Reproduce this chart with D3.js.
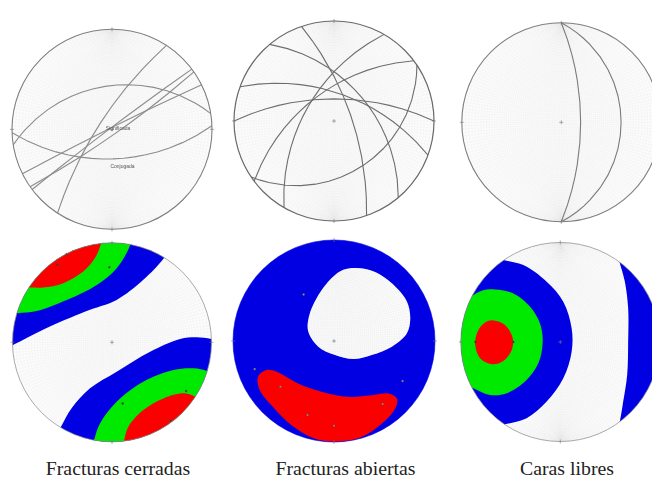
<!DOCTYPE html>
<meta charset="utf-8">
<title>Fracturas</title>
<style>
  html, body { margin: 0; background: #fff; overflow: hidden; }
</style>
<script src="https://d3js.org/d3.v7.min.js"></script>
<div id="chart"></div>

<script>
const planesCerradas = [[303, 75], [351, 43], [178, 57], [333.6, 88], [323, 88], [145, 84]]
const planesAbiertas = [[71, 70], [50, 50], [20, 59], [0, 65], [300, 57], [323, 57], [146, 34]]
const planesCaras = [[90, 68], [90, 28]]

// Contour outlines of the bottom row, in net units (-1 to 1, the rim is 1).
// Where a band leaves the net the outline runs on outside the rim.
const cerradasBlueA = [[-1.15, -0.1], [-1.0, -0.03], [-0.624, 0.158], [-0.221, 0.326], [0.047, 0.426], [0.315, 0.628], [0.517, 0.839], [0.6, 0.98], [0.2, 1.4], [-1.4, 1.4], [-1.5, 0.3]]
const cerradasGreenA = [[-1.1, 0.26], [-0.953, 0.292], [-0.758, 0.315], [-0.456, 0.426], [-0.154, 0.577], [0.047, 0.745], [0.181, 0.973], [0.22, 1.15], [-0.4, 1.4], [-1.4, 1.2]]
const cerradasRedA = [[-1.0, 0.55], [-0.826, 0.55], [-0.691, 0.55], [-0.49, 0.594], [-0.289, 0.711], [-0.171, 0.846], [-0.114, 0.98], [-0.08, 1.15], [-0.6, 1.4], [-1.3, 1.1]]
const cerradasBlueB = [[-0.6, -1.0], [-0.513, -0.849], [-0.406, -0.664], [-0.221, -0.463], [0.047, -0.295], [0.383, -0.094], [0.685, 0.034], [0.852, 0.05], [1.0, 0.034], [1.2, 0.0], [1.5, -0.6], [0.6, -1.5]]
const cerradasGreenB = [[-0.22, -1.12], [-0.181, -0.983], [-0.121, -0.815], [0.047, -0.597], [0.315, -0.396], [0.617, -0.279], [0.819, -0.262], [0.96, -0.289], [1.15, -0.36], [1.4, -0.9], [0.6, -1.5]]
const cerradasRedB = [[0.09, -1.15], [0.121, -0.99], [0.164, -0.849], [0.315, -0.681], [0.517, -0.564], [0.718, -0.513], [0.836, -0.547], [1.0, -0.67], [1.3, -1.1], [0.6, -1.5]]
const cerradasPoles = [[-0.456, 0.886], [-0.547, 0.779], [-0.027, 0.755], [0.745, -0.49], [0.107, -0.614], [0.591, -0.789]]

const abiertasWhite = [[0.225, 0.722], [0.407, 0.682], [0.606, 0.54], [0.722, 0.391], [0.755, 0.225], [0.722, 0.076], [0.573, -0.056], [0.374, -0.139], [0.192, -0.179], [0.01, -0.139], [-0.156, -0.056], [-0.255, 0.093], [-0.248, 0.242], [-0.172, 0.424], [-0.023, 0.623], [0.093, 0.705]]
const abiertasRed = [[-0.669, -0.288], [-0.553, -0.311], [-0.354, -0.421], [-0.123, -0.503], [0.142, -0.553], [0.374, -0.536], [0.54, -0.52], [0.623, -0.57], [0.606, -0.669], [0.474, -0.818], [0.275, -0.95], [0.043, -1.0], [-0.189, -0.967], [-0.42, -0.834], [-0.619, -0.636], [-0.735, -0.487], [-0.752, -0.354]]
const abiertasPoles = [[-0.301, 0.46], [-0.785, -0.278], [0.679, -0.397], [-0.53, -0.454], [-0.262, -0.732], [0, -0.838], [0.483, -0.623]]

const carasBlueA = [[-0.76, 0.87], [-0.572, 0.823], [-0.371, 0.773], [-0.137, 0.605], [0.03, 0.405], [0.114, 0.137], [0.114, -0.097], [0.03, -0.365], [-0.137, -0.599], [-0.338, -0.766], [-0.555, -0.826], [-0.76, -0.87], [-1.4, -1.0], [-1.4, 1.0]]
const carasBlueB = [[0.56, 0.92], [0.599, 0.789], [0.649, 0.605], [0.682, 0.338], [0.682, 0.003], [0.672, -0.331], [0.632, -0.599], [0.599, -0.793], [0.56, -0.92], [1.4, -1.2], [1.4, 1.2]]
const carasGreen = [[-1.05, 0.37], [-0.9, 0.455], [-0.79, 0.515], [-0.656, 0.528], [-0.472, 0.488], [-0.304, 0.355], [-0.204, 0.187], [-0.177, 0.003], [-0.221, -0.214], [-0.355, -0.398], [-0.538, -0.515], [-0.706, -0.532], [-0.873, -0.465], [-1.05, -0.37], [-1.3, 0]]
const carasRed = [[-0.672, 0.217], [-0.555, 0.171], [-0.478, 0.037], [-0.488, -0.08], [-0.572, -0.191], [-0.689, -0.224], [-0.806, -0.164], [-0.856, -0.013], [-0.823, 0.12], [-0.756, 0.197]]
const carasPoles = [[-0.853, 0], [-0.472, 0]]

const captions = ["Fracturas cerradas", "Fracturas abiertas", "Caras libres"]
const noteLabels = ["Significada", "Conjugada"]

const blue = "#0303e2"
const green = "#00ea00"
const red = "#fa0000"

const svg = d3.select("#chart")
    .append("svg")
    .attr("width", 652)
    .attr("height", 481)

// a bit of softness, the original is a scanned picture
const blur = svg.append("defs").append("filter").attr("id", "soft")
blur.append("feGaussianBlur").attr("stdDeviation", 0.45)

const graticule = d3.geoGraticule().step([2, 2])()

// draws the empty net and gives back the projection for that panel
function drawNet(g, cx, cy, r) {
    const projection = d3.geoStereographic()
        .scale(r)
        .translate([cx, cy])
        .clipAngle(90.1)
        .precision(0.3)
    g.append("circle").attr("cx", cx).attr("cy", cy).attr("r", r).attr("fill", "#fcfcfc")
    g.append("path")
        .attr("d", d3.geoPath(projection)(graticule))
        .attr("fill", "none")
        .attr("stroke", "#e6e6e6")
        .attr("stroke-width", 0.25)
    return projection
}

function drawRim(g, cx, cy, r, color, w) {
    g.append("circle")
        .attr("cx", cx).attr("cy", cy).attr("r", r)
        .attr("fill", "none").attr("stroke", color).attr("stroke-width", w)
    // small ticks at the four sides and the centre cross
    const t = 2
    const ticks = [
        [cx - r - t, cy, cx - r + t, cy], [cx + r - t, cy, cx + r + t, cy],
        [cx, cy - r - t, cx, cy - r + t], [cx, cy + r - t, cx, cy + r + t],
        [cx - t, cy, cx + t, cy], [cx, cy - t, cx, cy + t]
    ]
    g.selectAll("line.tick").data(ticks).join("line")
        .attr("class", "tick")
        .attr("x1", d => d[0]).attr("y1", d => d[1])
        .attr("x2", d => d[2]).attr("y2", d => d[3])
        .attr("stroke", "#777").attr("stroke-width", 0.6)
}

// point of the lower hemisphere, from trend and plunge, as lon/lat for the projection
function toLonLat(trend, plunge) {
    const t = trend * Math.PI / 180, p = plunge * Math.PI / 180
    const x = Math.sin(t) * Math.cos(p)
    const y = Math.cos(t) * Math.cos(p)
    const z = Math.sin(p)
    return [Math.atan2(x, z) * 180 / Math.PI, Math.asin(y) * 180 / Math.PI]
}

function drawPlanes(g, projection, planes, color) {
    const path = d3.geoPath(projection)
    g.selectAll("path.plane").data(planes).join("path")
        .attr("class", "plane")
        .attr("d", d => path({
            type: "LineString",
            coordinates: [toLonLat(d[0] - 90, 0), toLonLat(d[0], d[1]), toLonLat(d[0] + 90, 0)]
        }))
        .attr("fill", "none")
        .attr("stroke", color)
        .attr("stroke-width", 1.1)
}

function drawBands(g, cx, cy, r, bands, poles, poleColor, id) {
    const x = d3.scaleLinear().domain([-1, 1]).range([cx - r, cx + r])
    const y = d3.scaleLinear().domain([-1, 1]).range([cy + r, cy - r])
    const outline = d3.line()
        .x(d => x(d[0]))
        .y(d => y(d[1]))
        .curve(d3.curveCatmullRomClosed.alpha(0.5))

    g.append("clipPath").attr("id", id)
        .append("circle").attr("cx", cx).attr("cy", cy).attr("r", r)

    const inside = g.append("g").attr("clip-path", `url(#${id})`)
    inside.selectAll("path").data(bands).join("path")
        .attr("d", d => outline(d.shape))
        .attr("fill", d => d.color)

    g.selectAll("circle.pole").data(poles).join("circle")
        .attr("class", "pole")
        .attr("cx", d => x(d[0]))
        .attr("cy", d => y(d[1]))
        .attr("r", 1)
        .attr("fill", poleColor)
        .attr("stroke", "#555")
        .attr("stroke-width", 0.4)
}

const art = svg.append("g").attr("filter", "url(#soft)")

// Top row, great circles
const top1 = art.append("g")
const p1 = drawNet(top1, 112, 129.3, 100)
drawPlanes(top1, p1, planesCerradas, "#8c8c8c")
drawRim(top1, 112, 129.3, 100, "#808080", 1.1)

top1.selectAll("text").data(noteLabels).join("text")
    .attr("x", (d, i) => i == 0 ? 118 : 122.5)
    .attr("y", (d, i) => i == 0 ? 129.5 : 167.5)
    .attr("text-anchor", "middle")
    .attr("font-family", "Liberation Sans, Arial, sans-serif")
    .attr("font-size", 5)
    .attr("fill", "#555")
    .text(d => d)

const top2 = art.append("g")
const p2 = drawNet(top2, 334, 121, 100)
drawPlanes(top2, p2, planesAbiertas, "#6e6e6e")
drawRim(top2, 334, 121, 100, "#6a6a6a", 1.2)

const top3 = art.append("g")
const p3 = drawNet(top3, 561.3, 122.3, 99.5)
drawPlanes(top3, p3, planesCaras, "#7a7a7a")
drawRim(top3, 561.3, 122.3, 99.5, "#808080", 1.1)

// Bottom row, density contours
const low1 = art.append("g")
drawNet(low1, 112, 342.3, 99.5)
drawBands(low1, 112, 342.3, 99.5, [
    {shape: cerradasBlueA, color: blue},
    {shape: cerradasGreenA, color: green},
    {shape: cerradasRedA, color: red},
    {shape: cerradasBlueB, color: blue},
    {shape: cerradasGreenB, color: green},
    {shape: cerradasRedB, color: red}
], cerradasPoles, "#333", "clipA")
drawRim(low1, 112, 342.3, 99.5, "#888", 0.7)

const low2 = art.append("g")
low2.append("circle").attr("cx", 334).attr("cy", 341).attr("r", 101).attr("fill", blue)
const p5 = drawNet(low2.append("g").attr("clip-path", "url(#clipHole)"), 334, 341, 101)
low2.append("clipPath").attr("id", "clipHole").append("path")
    .attr("d", d3.line()
        .x(d => d3.scaleLinear().domain([-1, 1]).range([233, 435])(d[0]))
        .y(d => d3.scaleLinear().domain([-1, 1]).range([442, 240])(d[1]))
        .curve(d3.curveCatmullRomClosed.alpha(0.5))(abiertasWhite))
drawBands(low2, 334, 341, 101, [{shape: abiertasRed, color: red}], abiertasPoles, "#999", "clipB")
drawRim(low2, 334, 341, 101, blue, 0.6)

const low3 = art.append("g")
drawNet(low3, 560.3, 342, 99.5)
drawBands(low3, 560.3, 342, 99.5, [
    {shape: carasBlueA, color: blue},
    {shape: carasBlueB, color: blue},
    {shape: carasGreen, color: green},
    {shape: carasRed, color: red}
], carasPoles, "#222", "clipC")
drawRim(low3, 560.3, 342, 99.5, "#888", 0.7)

// Captions
svg.selectAll("text.caption").data(captions).join("text")
    .attr("class", "caption")
    .attr("x", (d, i) => [118, 345.5, 567][i])
    .attr("y", 475)
    .attr("text-anchor", "middle")
    .attr("font-family", "Liberation Serif, Times New Roman, serif")
    .attr("font-size", 19.8)
    .attr("fill", "#222")
    .text(d => d)
</script>
